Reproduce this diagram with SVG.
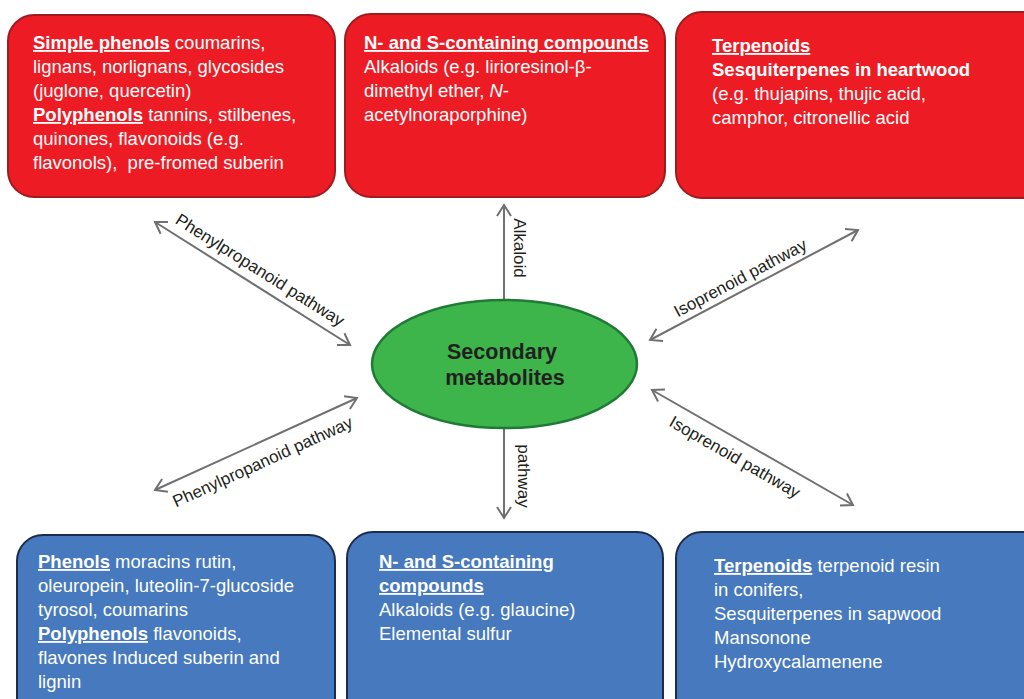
<svg xmlns="http://www.w3.org/2000/svg" width="1024" height="699" viewBox="0 0 1024 699">
  <style>
    .red { fill: #ED1C24; stroke: #9E1B1F; stroke-width: 2; }
    .blue { fill: #4679BD; stroke: #1D2C4C; stroke-width: 2; }
    .body { font-family: "Liberation Sans", Arial, sans-serif; font-size: 18.5px; fill: #FFFFFF; }
    .hd { font-weight: bold; text-decoration: underline; }
    .b { font-weight: bold; }
    .lbl { font-family: "Liberation Sans", Arial, sans-serif; font-size: 17px; fill: #231F20; text-anchor: middle; }
    .conn { stroke: #707070; stroke-width: 2; fill: none; }
  </style>
  <defs>
    <marker id="chev" markerUnits="userSpaceOnUse" markerWidth="20" markerHeight="20" viewBox="-14 -10 20 20" refX="0" refY="0" orient="auto-start-reverse">
      <path d="M -11 -7 L 0 0 L -11 7" fill="none" stroke="#707070" stroke-width="2"/>
    </marker>
  </defs>

  <rect width="1024" height="699" fill="#FFFFFF"/>

  <!-- connectors -->
  <g id="connectors">
    <line class="conn" x1="155" y1="222" x2="350" y2="345" marker-start="url(#chev)" marker-end="url(#chev)"/>
    <line class="conn" x1="155" y1="490" x2="357" y2="398" marker-start="url(#chev)" marker-end="url(#chev)"/>
    <line class="conn" x1="650" y1="340" x2="858" y2="230" marker-start="url(#chev)" marker-end="url(#chev)"/>
    <line class="conn" x1="652" y1="390" x2="853" y2="505" marker-start="url(#chev)" marker-end="url(#chev)"/>
    <line class="conn" x1="504" y1="302" x2="504" y2="205" marker-end="url(#chev)"/>
    <line class="conn" x1="504" y1="426" x2="504" y2="518" marker-end="url(#chev)"/>

    <text class="lbl" transform="translate(257,275) rotate(32.2)">Phenylpropanoid pathway</text>
    <text class="lbl" transform="translate(265,467) rotate(-24.5)">Phenylpropanoid pathway</text>
    <text class="lbl" transform="translate(743,283) rotate(-27.9)">Isoprenoid pathway</text>
    <text class="lbl" transform="translate(732,462) rotate(29.8)">Isoprenoid pathway</text>
    <text class="lbl" transform="translate(514,248) rotate(90)">Alkaloid</text>
    <text class="lbl" transform="translate(518,476) rotate(90)">pathway</text>
  </g>

  <!-- central node -->
  <g id="secondary-metabolites">
    <ellipse cx="504.5" cy="364" rx="132.5" ry="64" fill="#3DB54A" stroke="#1F7A35" stroke-width="2.5"/>
    <text font-family="Liberation Sans, Arial, sans-serif" font-size="21.5px" font-weight="bold" fill="#231F20" text-anchor="middle">
      <tspan x="505" y="359">Secondary</tspan>
      <tspan x="505" y="385">metabolites</tspan>
    </text>
  </g>

  <!-- constitutive compounds (top row) -->
  <g id="top-phenols">
    <rect class="red" x="8" y="15" width="327" height="182" rx="26"/>
    <text class="body">
      <tspan x="33" y="49"><tspan class="hd">Simple phenols</tspan> coumarins,</tspan>
      <tspan x="33" y="73">lignans, norlignans, glycosides</tspan>
      <tspan x="33" y="97">(juglone, quercetin)</tspan>
      <tspan x="33" y="121"><tspan class="hd">Polyphenols</tspan> tannins, stilbenes,</tspan>
      <tspan x="33" y="145">quinones, flavonoids (e.g.</tspan>
      <tspan x="33" y="169">flavonols),&#160; pre-fromed suberin</tspan>
    </text>
  </g>

  <g id="top-ns-compounds">
    <rect class="red" x="345" y="14" width="320" height="183" rx="26"/>
    <text class="body">
      <tspan x="364" y="49" class="hd">N- and S-containing compounds</tspan>
      <tspan x="364" y="73">Alkaloids (e.g. lirioresinol-β-</tspan>
      <tspan x="364" y="97">dimethyl ether, <tspan font-style="italic">N</tspan>-</tspan>
      <tspan x="364" y="121">acetylnoraporphine)</tspan>
    </text>
  </g>

  <g id="top-terpenoids">
    <rect class="red" x="676" y="12" width="380" height="186" rx="26"/>
    <text class="body">
      <tspan x="712" y="52" class="hd">Terpenoids</tspan>
      <tspan x="712" y="76" class="b">Sesquiterpenes in heartwood</tspan>
      <tspan x="712" y="100">(e.g. thujapins, thujic acid,</tspan>
      <tspan x="712" y="124">camphor, citronellic acid</tspan>
    </text>
  </g>

  <!-- induced compounds (bottom row) -->
  <g id="bottom-phenols">
    <rect class="blue" x="17" y="535" width="318" height="200" rx="26"/>
    <text class="body">
      <tspan x="38" y="568"><tspan class="hd">Phenols</tspan> moracins rutin,</tspan>
      <tspan x="38" y="592">oleuropein, luteolin-7-glucoside</tspan>
      <tspan x="38" y="616">tyrosol, coumarins</tspan>
      <tspan x="38" y="640"><tspan class="hd">Polyphenols</tspan> flavonoids,</tspan>
      <tspan x="38" y="664">flavones Induced suberin and</tspan>
      <tspan x="38" y="688">lignin</tspan>
    </text>
  </g>

  <g id="bottom-ns-compounds">
    <rect class="blue" x="347" y="532" width="316" height="200" rx="26"/>
    <text class="body">
      <tspan x="379" y="568" class="hd">N- and S-containing</tspan>
      <tspan x="379" y="592" class="hd">compounds</tspan>
      <tspan x="379" y="616">Alkaloids (e.g. glaucine)</tspan>
      <tspan x="379" y="640">Elemental sulfur</tspan>
    </text>
  </g>

  <g id="bottom-terpenoids">
    <rect class="blue" x="676" y="532" width="380" height="200" rx="26"/>
    <text class="body">
      <tspan x="714" y="572"><tspan class="hd">Terpenoids</tspan> terpenoid resin</tspan>
      <tspan x="714" y="596">in conifers,</tspan>
      <tspan x="714" y="620">Sesquiterpenes in sapwood</tspan>
      <tspan x="714" y="644">Mansonone</tspan>
      <tspan x="714" y="668">Hydroxycalamenene</tspan>
    </text>
  </g>
</svg>
